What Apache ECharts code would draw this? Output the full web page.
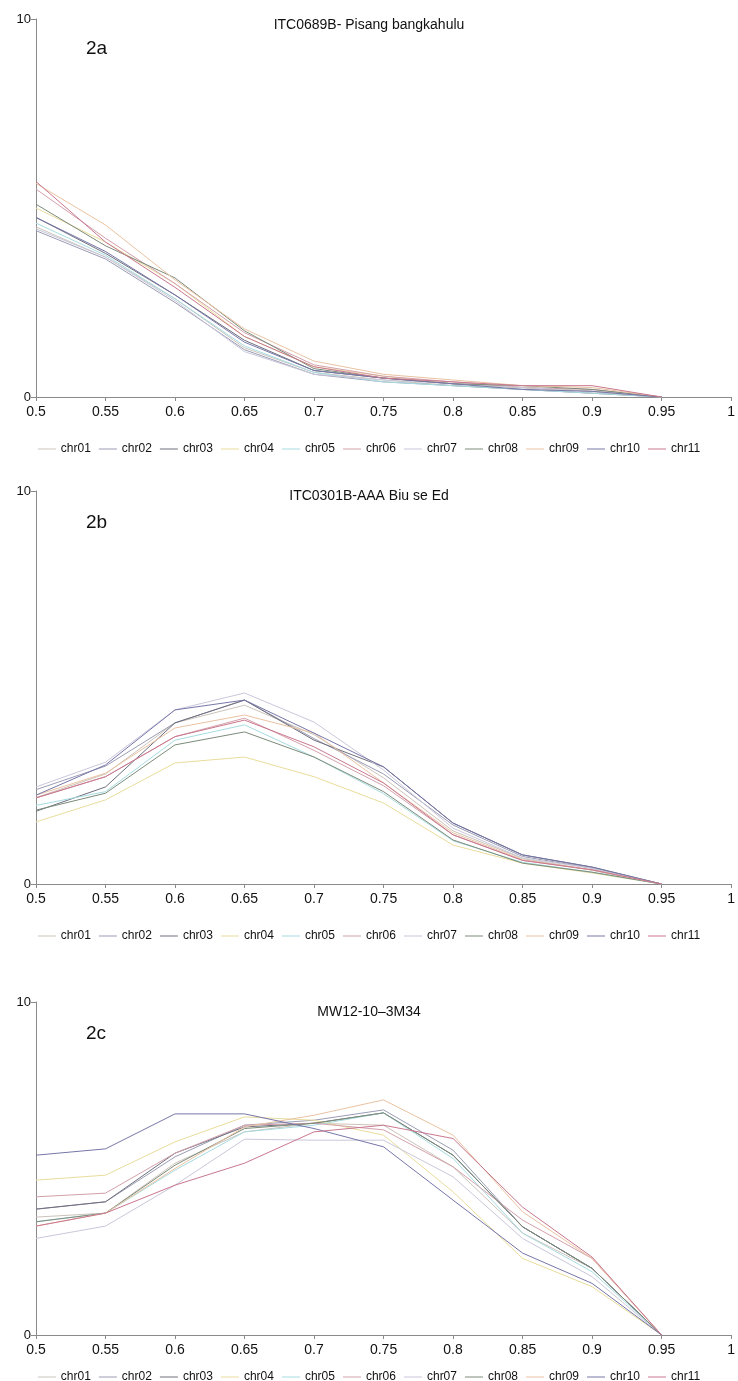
<!DOCTYPE html>
<html>
<head>
<meta charset="utf-8">
<script src="https://cdn.jsdelivr.net/npm/echarts@6/dist/echarts.min.js"></script>
<style>
html,body{margin:0;padding:0;background:#fff;}
#chart{width:738px;height:1381px;}
</style>
</head>
<body>
<div id="chart"></div>
<script>
// ---- data ----
const xCategories = ['0.5','0.55','0.6','0.65','0.7','0.75','0.8','0.85','0.9','0.95','1'];
const seriesNames = ['chr01','chr02','chr03','chr04','chr05','chr06','chr07','chr08','chr09','chr10','chr11'];
const panelTitles = ['ITC0689B- Pisang bangkahulu','ITC0301B-AAA Biu se Ed','MW12-10\u20133M34'];
const panelLabels = ['2a','2b','2c'];
const yTickLabels = ['0','10'];

// Panel 2a values (x = 0.5 .. 0.95)
const a_chr01 = [4.5, 3.7, 2.6, 1.3, 0.65, 0.45, 0.3, 0.2, 0.1, 0];
const a_chr02 = [4.4, 3.65, 2.5, 1.25, 0.6, 0.4, 0.3, 0.2, 0.1, 0];
const a_chr03 = [4.75, 3.8, 2.7, 1.5, 0.7, 0.5, 0.35, 0.25, 0.15, 0];
const a_chr04 = [5.0, 4.1, 3.0, 1.6, 0.8, 0.55, 0.35, 0.25, 0.15, 0];
const a_chr05 = [4.6, 3.75, 2.6, 1.35, 0.65, 0.4, 0.3, 0.2, 0.1, 0];
const a_chr06 = [5.5, 4.2, 3.0, 1.7, 0.85, 0.55, 0.4, 0.25, 0.2, 0];
const a_chr07 = [4.45, 3.7, 2.55, 1.2, 0.6, 0.45, 0.35, 0.25, 0.15, 0];
const a_chr08 = [5.1, 4.0, 3.15, 1.75, 0.75, 0.5, 0.35, 0.3, 0.2, 0];
const a_chr09 = [5.65, 4.55, 3.1, 1.8, 0.95, 0.6, 0.45, 0.3, 0.25, 0];
const a_chr10 = [4.75, 3.85, 2.7, 1.45, 0.7, 0.5, 0.35, 0.2, 0.15, 0];
const a_chr11 = [5.7, 4.1, 2.9, 1.6, 0.8, 0.5, 0.4, 0.3, 0.3, 0];

// Panel 2b values
const b_chr01 = [2.2, 2.8, 4.1, 4.55, 3.8, 2.7, 1.35, 0.65, 0.35, 0];
const b_chr02 = [2.4, 3.0, 4.1, 4.68, 3.7, 2.8, 1.5, 0.7, 0.4, 0];
const b_chr03 = [1.85, 2.47, 4.1, 4.68, 3.66, 2.98, 1.55, 0.74, 0.43, 0];
const b_chr04 = [1.58, 2.14, 3.08, 3.23, 2.73, 2.06, 0.99, 0.53, 0.28, 0];
const b_chr05 = [2.0, 2.35, 3.66, 4.05, 3.23, 2.3, 1.1, 0.55, 0.3, 0];
const b_chr06 = [2.19, 2.73, 3.75, 4.22, 3.4, 2.5, 1.25, 0.6, 0.36, 0];
const b_chr07 = [2.47, 3.1, 4.43, 4.86, 4.12, 2.9, 1.42, 0.66, 0.4, 0];
const b_chr08 = [1.88, 2.31, 3.54, 3.87, 3.23, 2.35, 1.12, 0.53, 0.3, 0];
const b_chr09 = [2.26, 2.82, 3.97, 4.3, 3.84, 2.57, 1.3, 0.62, 0.36, 0];
const b_chr10 = [2.26, 3.03, 4.43, 4.68, 3.84, 2.98, 1.55, 0.74, 0.43, 0];
const b_chr11 = [2.19, 2.73, 3.75, 4.17, 3.49, 2.57, 1.25, 0.6, 0.36, 0];

// Panel 2c values
const c_chr01 = [3.54, 3.66, 5.16, 6.1, 6.36, 6.3, 5.05, 3.06, 2.0, 0];
const c_chr02 = [3.78, 4.0, 5.35, 6.3, 6.45, 6.76, 5.55, 3.25, 2.0, 0];
const c_chr03 = [3.78, 4.0, 5.46, 6.25, 6.36, 6.67, 5.4, 3.25, 2.0, 0];
const c_chr04 = [4.65, 4.8, 5.8, 6.55, 6.45, 6.0, 4.3, 2.3, 1.45, 0];
const c_chr05 = [3.4, 3.66, 4.95, 6.1, 6.3, 6.67, 5.3, 3.06, 1.9, 0];
const c_chr06 = [4.15, 4.26, 5.46, 6.3, 6.36, 6.16, 5.05, 3.45, 2.3, 0];
const c_chr07 = [2.9, 3.27, 4.5, 5.88, 5.85, 5.85, 4.75, 2.9, 1.75, 0];
const c_chr08 = [3.4, 3.66, 5.1, 6.2, 6.36, 6.67, 5.4, 3.25, 2.0, 0];
const c_chr09 = [3.27, 3.66, 5.0, 6.25, 6.6, 7.06, 6.0, 3.7, 2.3, 0];
const c_chr10 = [5.4, 5.59, 6.64, 6.64, 6.2, 5.65, 4.05, 2.46, 1.55, 0];
const c_chr11 = [3.27, 3.66, 4.5, 5.16, 6.1, 6.3, 5.9, 3.84, 2.34, 0];

const panelData = [
  [a_chr01,a_chr02,a_chr03,a_chr04,a_chr05,a_chr06,a_chr07,a_chr08,a_chr09,a_chr10,a_chr11],
  [b_chr01,b_chr02,b_chr03,b_chr04,b_chr05,b_chr06,b_chr07,b_chr08,b_chr09,b_chr10,b_chr11],
  [c_chr01,c_chr02,c_chr03,c_chr04,c_chr05,c_chr06,c_chr07,c_chr08,c_chr09,c_chr10,c_chr11]
];

// ---- styles ----
const colors = ['#cbc3ba','#9a9cb4','#6e6e7c','#e9dc9c','#a6dbe0','#d2a0aa','#c9c7da','#7b8b79','#e9c2a2','#7676a8','#c9778f'];
const FONT = 'Liberation Sans, Arial, sans-serif';
const grids = [
  {left:36, top:19, width:700, height:378},
  {left:36, top:491, width:700, height:393},
  {left:36, top:1002, width:700, height:333}
];
const titleTops = [13, 484, 1000];
const labelTops = [34, 508, 1019];
const legendTops = [438, 925, 1366];

const axisColor = '#8a8a8a';
const xAxes = [], yAxes = [], series = [], titles = [], legends = [];
grids.forEach((g, p) => {
  xAxes.push({
    type:'category', gridIndex:p, data:xCategories, boundaryGap:false,
    axisLine:{lineStyle:{color:axisColor, width:1}},
    axisTick:{show:true, alignWithLabel:true, length:4, lineStyle:{color:axisColor}},
    axisLabel:{color:'#111', fontFamily:FONT, fontSize:14, margin:8, interval:0},
    splitLine:{show:false}
  });
  yAxes.push({
    type:'value', gridIndex:p, min:0, max:10, interval:10,
    axisLine:{show:true, lineStyle:{color:axisColor, width:1}},
    axisTick:{show:true, length:5, lineStyle:{color:axisColor}},
    axisLabel:{color:'#111', fontFamily:FONT, fontSize:13, margin:5,
      formatter:(v)=> yTickLabels.indexOf(String(v))>=0 ? String(v) : ''},
    splitLine:{show:false}
  });
  titles.push({text:panelTitles[p], left:'center', top:titleTops[p],
    textStyle:{fontFamily:FONT, fontSize:14, fontWeight:'normal', color:'#111'}});
  titles.push({text:panelLabels[p], left:81, top:labelTops[p],
    textStyle:{fontFamily:FONT, fontSize:19, fontWeight:'normal', color:'#111'}});
  legends.push({data:seriesNames.map(n=>({name:n, icon:'rect'})), top:legendTops[p], left:'center',
    itemWidth:18, itemHeight:1, itemGap:8,
    textStyle:{fontFamily:FONT, fontSize:12, color:'#111'}});
  seriesNames.forEach((name, i) => {
    series.push({
      name:name, type:'line', xAxisIndex:p, yAxisIndex:p,
      data:panelData[p][i], symbol:'none', showSymbol:false,
      lineStyle:{color:colors[i], width:1}, itemStyle:{color:colors[i]},
      animation:false
    });
  });
});

const chart = echarts.init(document.getElementById('chart'), null, {renderer:'canvas'});
chart.setOption({
  backgroundColor:'#fff',
  animation:false,
  title:titles,
  legend:legends,
  grid:grids,
  xAxis:xAxes,
  yAxis:yAxes,
  series:series
});
</script>
</body>
</html>
